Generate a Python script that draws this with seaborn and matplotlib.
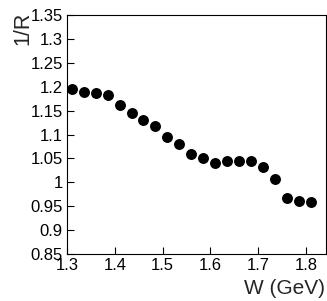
import matplotlib
matplotlib.use("Agg")
import matplotlib.pyplot as plt
import seaborn as sns
import numpy as np

# W bins (GeV) and measured 1/R
w_gev = [1.31, 1.335, 1.36, 1.385, 1.41, 1.435, 1.46, 1.485, 1.51, 1.535, 1.56,
         1.585, 1.61, 1.635, 1.66, 1.685, 1.71, 1.735, 1.76, 1.785, 1.81]
inv_r = [1.195, 1.188, 1.186, 1.182, 1.162, 1.146, 1.130, 1.118, 1.095, 1.080, 1.060,
         1.050, 1.040, 1.044, 1.044, 1.044, 1.032, 1.008, 0.968, 0.960, 0.958]

y_ticks = [0.85, 0.9, 0.95, 1, 1.05, 1.1, 1.15, 1.2, 1.25, 1.3, 1.35]
y_labels = ["0.85", "0.9", "0.95", "1", "1.05", "1.1", "1.15", "1.2", "1.25", "1.3", "1.35"]
x_ticks = [1.3, 1.4, 1.5, 1.6, 1.7, 1.8]

sns.set_style("ticks")
plt.rcParams['font.family'] = ['Liberation Sans', 'DejaVu Sans']

fig = plt.figure(figsize=(3.27, 3.01), dpi=100)
ax = fig.add_axes([0.205, 0.156, 0.792, 0.794])

sns.scatterplot(x=w_gev, y=inv_r, color="black", s=62, edgecolor="black", linewidth=0, ax=ax)

ax.set_xlim(1.3, 1.842)
ax.set_ylim(0.85, 1.35)
ax.set_xticks(x_ticks)
ax.set_xticklabels([str(t) for t in x_ticks])
ax.set_yticks(y_ticks)
ax.set_yticklabels(y_labels)
ax.tick_params(direction="in", length=5, width=0.8, labelsize=12, colors="black")
ax.tick_params(axis="x", pad=3)
ax.tick_params(axis="y", pad=3)
for sp in ax.spines.values():
    sp.set_visible(True)
    sp.set_color("black")
    sp.set_linewidth(0.8)

fig.text(0.995, 0.01, "W (GeV)", ha="right", va="bottom", fontsize=15)
fig.text(0.037, 0.96, "1/R", ha="left", va="top", rotation=90, fontsize=15.5)

fig.savefig("out.png", dpi=100)
